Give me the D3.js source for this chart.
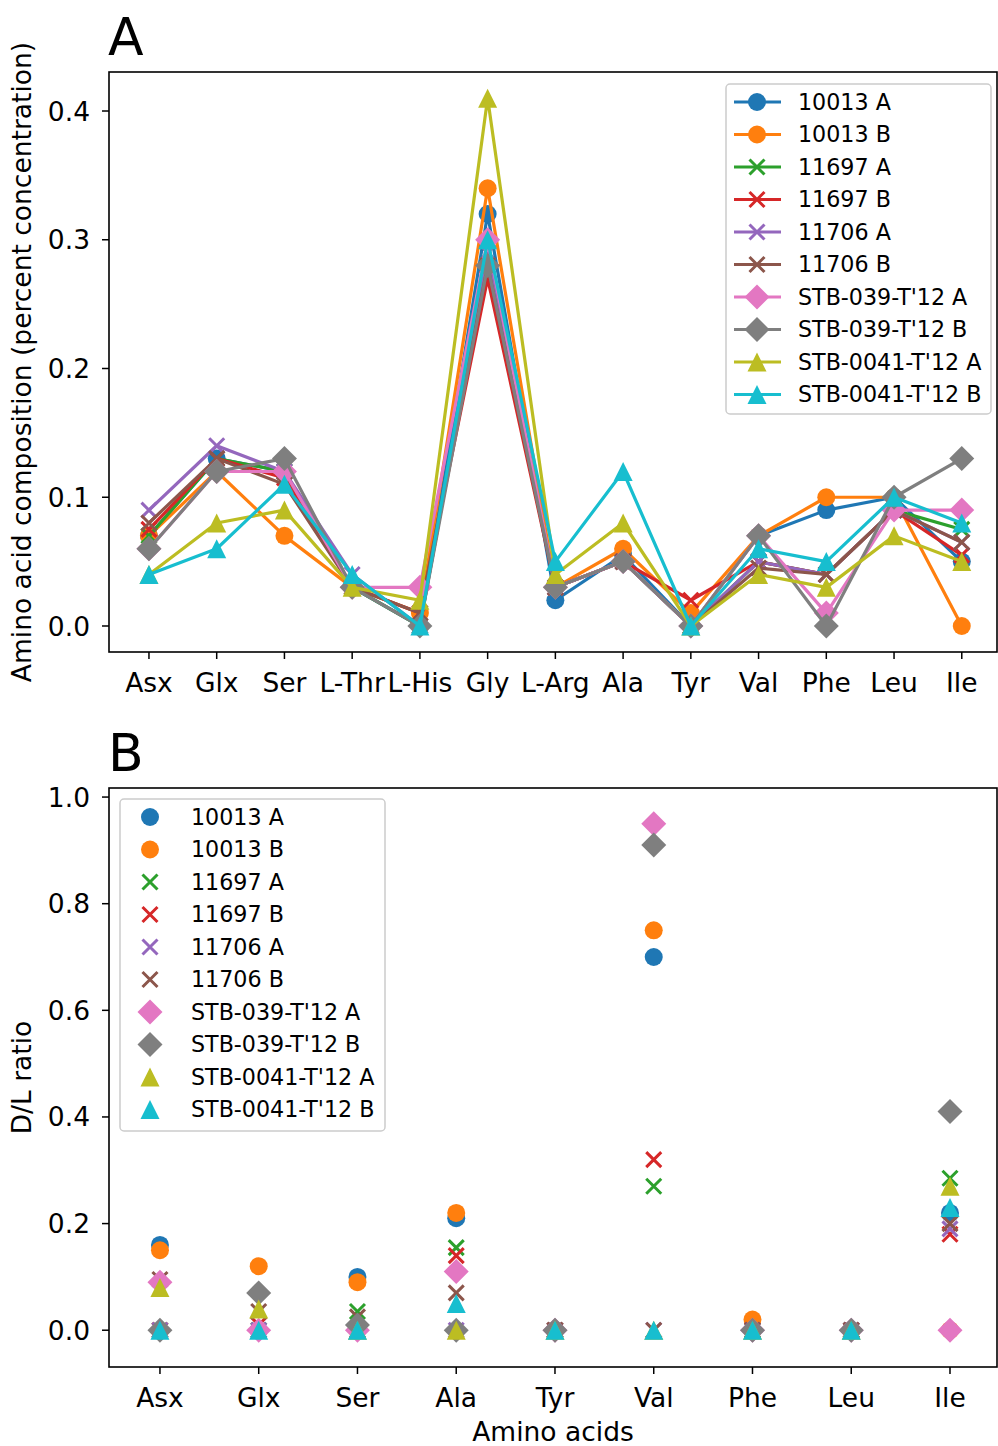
<!DOCTYPE html>
<html lang="en">
<head>
<meta charset="utf-8">
<title>Amino acid composition and D/L ratio</title>
<script src="https://cdn.jsdelivr.net/npm/d3@7"></script>
<style>
  body { margin: 0; background: #fff; }
  svg text { font-family: "DejaVu Sans", sans-serif; fill: #000; }
</style>
</head>
<body>
<script>
// categories
var catsA = ["Asx", "Glx", "Ser", "L-Thr", "L-His", "Gly", "L-Arg", "Ala", "Tyr", "Val", "Phe", "Leu", "Ile"];
var catsB = ["Asx", "Glx", "Ser", "Ala", "Tyr", "Val", "Phe", "Leu", "Ile"];

var names = ["10013 A", "10013 B", "11697 A", "11697 B", "11706 A", "11706 B",
             "STB-039-T'12 A", "STB-039-T'12 B", "STB-0041-T'12 A", "STB-0041-T'12 B"];
var colors = ["#1f77b4", "#ff7f0e", "#2ca02c", "#d62728", "#9467bd",
              "#8c564b", "#e377c2", "#7f7f7f", "#bcbd22", "#17becf"];
var markers = ["o", "o", "x", "x", "x", "x", "D", "D", "^", "^"];

// panel A: composition (one array per sample)
var compA = [
  [0.07, 0.13, 0.12, 0.03, 0.0, 0.32, 0.02, 0.055, 0.0, 0.07, 0.09, 0.10, 0.05],
  [0.07, 0.12, 0.07, 0.03, 0.01, 0.34, 0.03, 0.06, 0.01, 0.07, 0.10, 0.10, 0.0],
  [0.07, 0.13, 0.12, 0.03, 0.0, 0.29, 0.03, 0.05, 0.0, 0.05, 0.04, 0.09, 0.075],
  [0.075, 0.13, 0.115, 0.03, 0.01, 0.27, 0.03, 0.05, 0.02, 0.05, 0.04, 0.09, 0.055],
  [0.09, 0.14, 0.12, 0.04, 0.0, 0.29, 0.03, 0.05, 0.0, 0.05, 0.04, 0.09, 0.065],
  [0.08, 0.13, 0.11, 0.03, 0.01, 0.28, 0.03, 0.05, 0.0, 0.045, 0.04, 0.09, 0.065],
  [0.06, 0.12, 0.12, 0.03, 0.03, 0.30, 0.03, 0.05, 0.0, 0.07, 0.01, 0.09, 0.09],
  [0.06, 0.12, 0.13, 0.03, 0.0, 0.28, 0.03, 0.05, 0.0, 0.07, 0.0, 0.10, 0.13],
  [0.04, 0.08, 0.09, 0.03, 0.02, 0.41, 0.04, 0.08, 0.0, 0.04, 0.03, 0.07, 0.05],
  [0.04, 0.06, 0.11, 0.04, 0.0, 0.30, 0.05, 0.12, 0.0, 0.06, 0.05, 0.10, 0.08]
];

// panel B: D/L ratio
var ratioB = [
  [0.16, 0.0, 0.10, 0.21, 0.0, 0.70, 0.0, 0.0, 0.22],
  [0.15, 0.12, 0.09, 0.22, 0.0, 0.75, 0.02, 0.0, 0.0],
  [0.0, 0.0, 0.035, 0.155, 0.0, 0.27, 0.0, 0.0, 0.285],
  [0.0, 0.01, 0.0, 0.14, 0.0, 0.32, 0.0, 0.0, 0.18],
  [0.0, 0.0, 0.0, 0.0, 0.0, 0.0, 0.0, 0.0, 0.19],
  [0.095, 0.035, 0.025, 0.07, 0.0, 0.0, 0.0, 0.0, 0.20],
  [0.09, 0.0, 0.0, 0.11, 0.0, 0.95, 0.0, 0.0, 0.0],
  [0.0, 0.07, 0.01, 0.0, 0.0, 0.91, 0.0, 0.0, 0.41],
  [0.08, 0.04, 0.0, 0.0, 0.0, 0.0, 0.0, 0.0, 0.27],
  [0.0, 0.0, 0.0, 0.05, 0.0, 0.0, 0.0, 0.0, 0.23]
];

var ticksA = [0.0, 0.1, 0.2, 0.3, 0.4];
var ticksB = [0.0, 0.2, 0.4, 0.6, 0.8, 1.0];

var W = 998, H = 1446;
var FS = 26.5;
var svg = d3.select("body").append("svg").attr("width", W).attr("height", H);

// marker paths, centred on 0,0
function markerPath(m, s) {
  if (m == "o") return d3.symbol().type(d3.symbolCircle).size(Math.PI * s * s)();
  if (m == "x") return "M" + (-s) + "," + (-s) + "L" + s + "," + s + "M" + (-s) + "," + s + "L" + s + "," + (-s);
  if (m == "D") return "M0," + (-s) + "L" + s + ",0L0," + s + "L" + (-s) + ",0Z";
  // ^
  return "M0," + (-s) + "L" + s + "," + s + "L" + (-s) + "," + s + "Z";
}
function markerSize(m) {
  if (m == "o") return 9;
  if (m == "x") return 7.5;
  if (m == "D") return 12.5;
  return 9.5;
}
function drawMarker(g, m, c, x, y) {
  var p = g.append("path")
    .attr("d", markerPath(m, markerSize(m)))
    .attr("transform", "translate(" + x + "," + y + ")");
  if (m == "x") p.attr("fill", "none").attr("stroke", c).attr("stroke-width", 3);
  else p.attr("fill", c).attr("stroke", "none");
}

function frame(top, bottom, left, right) {
  svg.append("rect")
    .attr("x", left).attr("y", top)
    .attr("width", right - left).attr("height", bottom - top)
    .attr("fill", "none").attr("stroke", "#000").attr("stroke-width", 1.6);
}

function axes(x, y, cats, yt, bottom, left, tickBase) {
  var g = svg.append("g");
  cats.forEach(function(c, i) {
    g.append("line").attr("x1", x(i)).attr("x2", x(i)).attr("y1", bottom).attr("y2", bottom + 7)
      .attr("stroke", "#000").attr("stroke-width", 1.5);
    g.append("text").attr("x", x(i)).attr("y", tickBase).attr("text-anchor", "middle")
      .attr("font-size", FS).text(c);
  });
  yt.forEach(function(t) {
    g.append("line").attr("x1", left - 7).attr("x2", left).attr("y1", y(t)).attr("y2", y(t))
      .attr("stroke", "#000").attr("stroke-width", 1.5);
    g.append("text").attr("x", left - 19).attr("y", y(t)).attr("dy", "0.36em")
      .attr("text-anchor", "end").attr("font-size", FS).text(d3.format(".1f")(t));
  });
}

function legend(x0, y0, w, h, withLine) {
  var g = svg.append("g");
  g.append("rect").attr("x", x0).attr("y", y0).attr("width", w).attr("height", h)
    .attr("rx", 4).attr("fill", "#fff").attr("fill-opacity", 0.8)
    .attr("stroke", "#cccccc").attr("stroke-width", 1.5);
  names.forEach(function(n, i) {
    var cy = y0 + 18 + i * 32.5;
    if (withLine) {
      g.append("line").attr("x1", x0 + 8).attr("x2", x0 + 55).attr("y1", cy).attr("y2", cy)
        .attr("stroke", colors[i]).attr("stroke-width", 3.2);
      drawMarker(g, markers[i], colors[i], x0 + 31, cy);
    } else {
      drawMarker(g, markers[i], colors[i], x0 + 30, cy);
    }
    g.append("text").attr("x", x0 + (withLine ? 72 : 71)).attr("y", cy).attr("dy", "0.36em")
      .attr("font-size", 22.2).text(n);
  });
}

/* ---------- panel A ---------- */
var a = {top: 72, bottom: 652, left: 109, right: 997};
var xA = d3.scaleLinear().domain([-0.59, 12.52]).range([a.left, a.right]);
var yA = d3.scaleLinear().domain([-0.0202, 0.4303]).range([a.bottom, a.top]);

var gA = svg.append("g");
var line = d3.line().x(function(d, i) { return xA(i); }).y(function(d) { return yA(d); });
compA.forEach(function(vals, s) {
  gA.append("path").datum(vals).attr("d", line)
    .attr("fill", "none").attr("stroke", colors[s]).attr("stroke-width", 3.2)
    .attr("stroke-linejoin", "round");
  vals.forEach(function(v, i) { drawMarker(gA, markers[s], colors[s], xA(i), yA(v)); });
});
frame(a.top, a.bottom, a.left, a.right);
axes(xA, yA, catsA, ticksA, a.bottom, a.left, 692);
legend(726, 84, 265, 330, true);

svg.append("text").attr("x", 108).attr("y", 55).attr("font-size", 52).text("A");
svg.append("text").attr("transform", "translate(31," + (a.top + a.bottom) / 2 + ") rotate(-90)")
  .attr("text-anchor", "middle").attr("font-size", FS)
  .text("Amino acid composition (percent concentration)");

/* ---------- panel B ---------- */
var b = {top: 788, bottom: 1367, left: 109, right: 997};
var xB = d3.scaleLinear().domain([-0.516, 8.476]).range([b.left, b.right]);
var yB = d3.scaleLinear().domain([-0.069, 1.017]).range([b.bottom, b.top]);

var gB = svg.append("g");
ratioB.forEach(function(vals, s) {
  vals.forEach(function(v, i) { drawMarker(gB, markers[s], colors[s], xB(i), yB(v)); });
});
frame(b.top, b.bottom, b.left, b.right);
axes(xB, yB, catsB, ticksB, b.bottom, b.left, 1407);
legend(120, 799, 265, 332, false);

svg.append("text").attr("x", 108).attr("y", 771).attr("font-size", 52).text("B");
svg.append("text").attr("transform", "translate(31," + (b.top + b.bottom) / 2 + ") rotate(-90)")
  .attr("text-anchor", "middle").attr("font-size", FS).text("D/L ratio");
svg.append("text").attr("x", (b.left + b.right) / 2).attr("y", 1441)
  .attr("text-anchor", "middle").attr("font-size", FS).text("Amino acids");
</script>
</body>
</html>
